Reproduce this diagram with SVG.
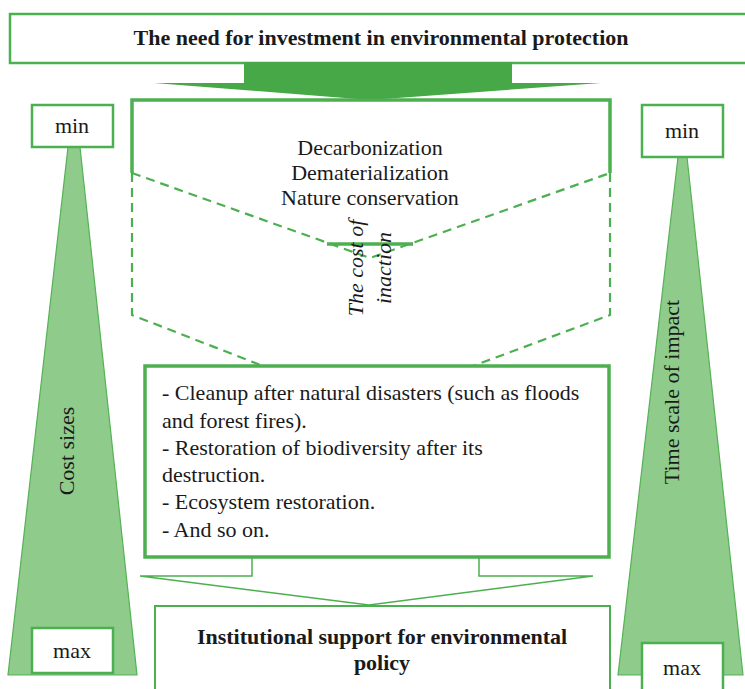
<svg xmlns="http://www.w3.org/2000/svg" width="745" height="689" viewBox="0 0 745 689">
<style>
text{font-family:"Liberation Serif","Times New Roman",serif;font-size:22px;fill:#1a1a1a}
.b{font-weight:bold}
.i{font-style:italic}
.m{text-anchor:middle}
.box{fill:#fff;stroke:#4caf50;stroke-width:2.5}
.thick{fill:none;stroke:#4caf50;stroke-width:3.5}
.dash{fill:none;stroke:#4caf50;stroke-width:2.2;stroke-dasharray:9 6}
.thin{fill:none;stroke:#4caf50;stroke-width:1.5}
.tri{fill:#8fcb8b;stroke:#55b255;stroke-width:1.2}
</style>
<rect width="745" height="689" fill="#fff"/>
<g id="scale-left">
<polygon class="tri" points="68,147 80,147 137,675 8,675"/>
<text class="m" transform="translate(74,451) rotate(-90)">Cost sizes</text>
</g>
<g id="scale-right">
<polygon class="tri" points="678,157 687,157 743,675 618,675"/>
<text class="m" transform="translate(679,392) rotate(-90)">Time scale of impact</text>
</g>
<g id="title">
<rect class="box" x="10" y="14" width="745" height="49"/>
<text class="b m" x="381" y="45">The need for investment in environmental protection</text>
</g>
<g id="min-left">
<rect class="box" x="32" y="105" width="81" height="42"/>
<text class="m" x="72" y="133">min</text>
</g>
<g id="min-right">
<rect class="box" x="642" y="105" width="81" height="52"/>
<text class="m" x="682" y="138">min</text>
</g>
<g id="max-left">
<rect class="box" x="32" y="628" width="81" height="45"/>
<text class="m" x="72" y="658">max</text>
</g>
<g id="max-right">
<rect class="box" x="642" y="643" width="81" height="60"/>
<text class="m" x="682" y="675">max</text>
</g>
<g id="connectors">
<rect x="244" y="62" width="268" height="22" fill="#46a846"/>
<polygon points="154,83 601,83 370,100" fill="#46a846"/>
<path class="thick" d="M132,173 V100 H610 V173"/>
<path class="dash" d="M132,173 V315 L263,366 M610,173 V315 L473,366"/>
<path class="dash" d="M132,173 L370,258 L610,173"/>
<line x1="327" y1="244" x2="413" y2="244" stroke="#4caf50" stroke-width="3.5"/>
<path class="thin" d="M252,557 V576 H140 L369,605 L593,576 H479 V557"/>
</g>
<g id="actions">
<text class="m" x="370" y="155">Decarbonization</text>
<text class="m" x="370" y="180">Dematerialization</text>
<text class="m" x="370" y="205">Nature conservation</text>
</g>
<g id="inaction">
<text class="i m" transform="translate(363,268) rotate(-90)">The cost of</text>
<text class="i m" transform="translate(391,268) rotate(-90)">inaction</text>
</g>
<g id="consequences">
<rect class="thick" x="145" y="366" width="464" height="191" fill="#fff"/>
<text x="162" y="400">- Cleanup after natural disasters (such as floods</text>
<text x="162" y="428">and forest fires).</text>
<text x="162" y="455">- Restoration of biodiversity after its</text>
<text x="162" y="482">destruction.</text>
<text x="162" y="509">- Ecosystem restoration.</text>
<text x="162" y="537">- And so on.</text>
</g>
<g id="institutional">
<rect class="box" x="155" y="606" width="455" height="100" style="stroke-width:2"/>
<text class="b m" x="382" y="644">Institutional support for environmental</text>
<text class="b m" x="382" y="670">policy</text>
</g>
</svg>
